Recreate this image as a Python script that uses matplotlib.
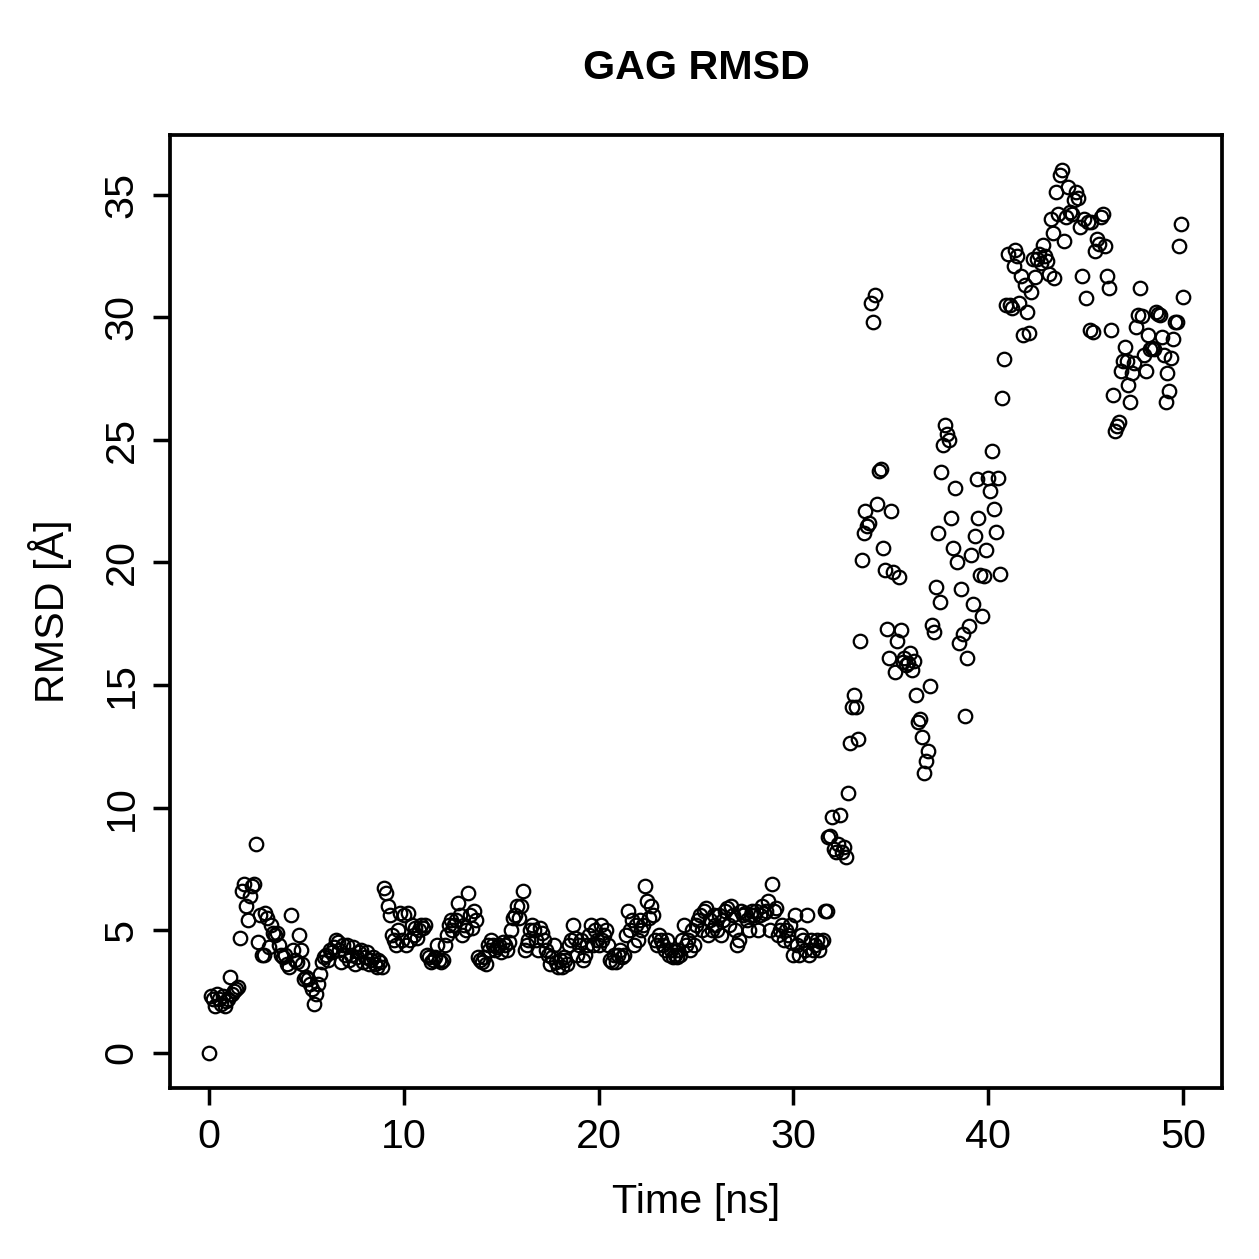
import numpy as np
import matplotlib
matplotlib.use("Agg")
from matplotlib import pyplot as plt

plt.rcParams['font.family'] = ['Liberation Sans', 'DejaVu Sans']

# time axis, one frame every 0.1 ns
time_ns = np.round(np.arange(501) * 0.1, 1)

# RMSD values, 10 per ns
rmsd = [
    0.0, 2.3, 2.2, 1.9, 2.4, 2.2, 2.0, 2.3, 1.9, 2.1,
    2.2, 3.1, 2.4, 2.5, 2.6, 2.7, 4.7, 6.6, 6.9, 6.0,
    5.4, 6.4, 6.8, 6.9, 8.5, 4.5, 5.6, 4.0, 4.0, 5.7,
    5.5, 4.3, 5.2, 4.9, 4.8, 4.9, 4.4, 4.0, 3.9, 4.0,
    3.6, 3.5, 5.6, 4.2, 3.8, 3.7, 4.8, 4.2, 3.6, 3.0,
    3.1, 3.0, 2.8, 2.6, 2.0, 2.4, 2.8, 3.2, 3.7, 3.9,
    4.0, 3.8, 4.2, 4.1, 4.3, 4.6, 4.5, 4.2, 3.7, 4.4,
    4.0, 4.4, 3.8, 4.0, 4.3, 3.6, 3.9, 4.1, 4.2, 3.7,
    3.9, 4.1, 3.6, 3.8, 3.9, 3.6, 3.5, 3.8, 3.7, 3.5,
    6.7, 6.5, 6.0, 5.6, 4.8, 4.6, 4.4, 5.0, 5.7, 4.6,
    5.6, 4.4, 5.7, 4.6, 5.2, 4.8, 5.1, 4.7, 5.0, 5.2,
    5.1, 5.2, 4.0, 3.9, 3.7, 3.8, 3.9, 4.4, 3.8, 3.7,
    3.8, 4.4, 4.8, 5.2, 5.4, 5.0, 5.2, 5.4, 6.1, 5.6,
    4.8, 5.2, 5.0, 6.5, 5.6, 5.1, 5.8, 5.4, 3.9, 3.8,
    3.7, 3.9, 3.6, 4.4, 4.2, 4.6, 4.4, 4.2, 4.3, 4.4,
    4.1, 4.5, 4.4, 4.2, 4.5, 5.0, 5.5, 5.6, 6.0, 5.5,
    6.0, 6.6, 4.2, 4.4, 4.6, 5.0, 5.2, 5.0, 4.6, 4.2,
    5.1, 4.9, 4.6, 4.2, 4.0, 3.6, 3.9, 4.4, 3.7, 3.5,
    3.8, 3.5, 3.9, 3.8, 3.6, 4.4, 4.6, 5.2, 4.7, 4.0,
    4.4, 4.6, 3.8, 4.0, 4.4, 4.8, 5.2, 4.4, 5.0, 4.6,
    4.4, 5.2, 4.6, 4.8, 5.0, 4.4, 3.8, 3.7, 4.0, 3.7,
    4.0, 4.2, 3.9, 4.0, 4.8, 5.8, 5.0, 5.4, 4.4, 5.2,
    4.6, 5.4, 5.0, 5.2, 6.8, 6.2, 5.5, 6.0, 5.6, 4.6,
    4.4, 4.8, 4.6, 4.4, 4.2, 4.6, 4.0, 4.2, 3.9, 4.0,
    3.9, 4.2, 4.0, 4.6, 5.2, 4.4, 4.6, 4.2, 5.0, 4.4,
    5.2, 5.4, 5.6, 5.0, 5.8, 5.9, 4.8, 5.4, 5.0, 5.6,
    5.2, 5.0, 5.6, 4.8, 5.4, 5.8, 5.9, 5.2, 6.0, 5.6,
    5.0, 4.4, 4.6, 5.8, 5.6, 5.7, 5.4, 5.0, 5.6, 5.8,
    5.6, 5.8, 5.0, 5.6, 6.0, 5.7, 5.8, 6.2, 5.0, 6.9,
    5.8, 5.9, 4.8, 5.0, 5.2, 4.6, 5.0, 4.8, 5.2, 4.5,
    4.0, 5.6, 4.4, 4.0, 4.8, 4.6, 4.2, 5.6, 4.0, 4.6,
    4.2, 4.4, 4.6, 4.2, 4.5, 4.6, 5.8, 5.8, 8.8, 8.85,
    9.6, 8.3, 8.2, 8.5, 9.7, 8.2, 8.4, 8.0, 10.6, 12.65,
    14.1, 14.6, 14.1, 12.8, 16.8, 20.1, 21.2, 22.1, 21.5, 21.6,
    30.6, 29.8, 30.9, 22.4, 23.75, 23.8, 20.6, 19.7, 17.3, 16.1,
    22.1, 19.6, 15.55, 16.8, 19.4, 17.25, 15.95, 16.1, 15.8, 15.9,
    16.3, 15.6, 16.0, 14.6, 13.5, 13.6, 12.9, 11.4, 11.9, 12.3,
    14.95, 17.45, 17.15, 19.0, 21.2, 18.4, 23.7, 24.8, 25.6, 25.25,
    25.0, 21.8, 20.6, 23.05, 20.0, 16.7, 18.9, 17.1, 13.75, 16.1,
    17.4, 20.3, 18.3, 21.1, 23.4, 21.8, 19.5, 17.8, 19.45, 20.5,
    23.45, 22.9, 24.55, 22.2, 21.25, 23.45, 19.55, 26.7, 28.3, 30.5,
    32.6, 30.5, 30.4, 32.1, 32.75, 32.5, 30.6, 31.7, 29.3, 31.3,
    30.2, 29.35, 31.05, 32.4, 31.65, 32.4, 32.6, 32.2, 32.95, 32.5,
    32.3, 31.75, 34.0, 33.45, 31.6, 35.1, 34.2, 35.8, 36.0, 33.1,
    34.1, 35.3, 34.3, 34.2, 34.8, 35.1, 34.85, 33.7, 31.7, 34.0,
    30.8, 33.9, 29.5, 33.9, 29.4, 32.7, 33.2, 33.0, 34.1, 34.2,
    32.9, 31.7, 31.2, 29.5, 26.85, 25.35, 25.55, 25.75, 27.8, 28.2,
    28.8, 28.2, 27.25, 26.55, 27.75, 28.15, 29.6, 30.1, 31.2, 30.05,
    28.45, 27.8, 29.3, 28.7, 28.75, 28.7, 30.2, 30.15, 30.1, 29.2,
    28.45, 26.55, 27.75, 27.0, 28.35, 29.1, 29.8, 29.8, 32.9, 33.8,
    30.85,
]

x_ticks = [0, 10, 20, 30, 40, 50]
y_ticks = [0, 5, 10, 15, 20, 25, 30, 35]

fig = plt.figure(figsize=(1259 / 180, 1259 / 180), dpi=180)
ax = fig.add_axes([170 / 1259, 1 - 1088 / 1259, (1222 - 170) / 1259, (1088 - 135) / 1259])

ax.plot(time_ns, rmsd, linestyle='none', marker='o', markersize=5.4,
        markerfacecolor='none', markeredgecolor='black', markeredgewidth=0.9)

ax.set_xlim(-2, 52)
ax.set_ylim(-1.44, 37.44)
ax.set_xticks(x_ticks)
ax.set_yticks(y_ticks)
ax.tick_params(axis='both', direction='out', length=6.8, width=1.4, labelsize=16.5, colors='black')
ax.tick_params(axis='x', pad=5)
ax.tick_params(axis='y', pad=5)
for lab in ax.get_yticklabels():
    lab.set_rotation(90)
    lab.set_va('center')
for sp in ax.spines.values():
    sp.set_linewidth(1.5)

ax.set_xlabel("Time [ns]", fontsize=16.5, va='center')
ax.set_ylabel("RMSD [Å]", fontsize=16.5, va='center')
ax.xaxis.set_label_coords(0.5, -(1202 - 1088) / 953)
ax.yaxis.set_label_coords(-(170 - 50) / 1052, 0.5)
fig.text(0.553, 1 - 68 / 1259, "GAG RMSD", ha='center', va='center', fontsize=16.5, fontweight='bold')

fig.savefig("out.png", dpi=180)
